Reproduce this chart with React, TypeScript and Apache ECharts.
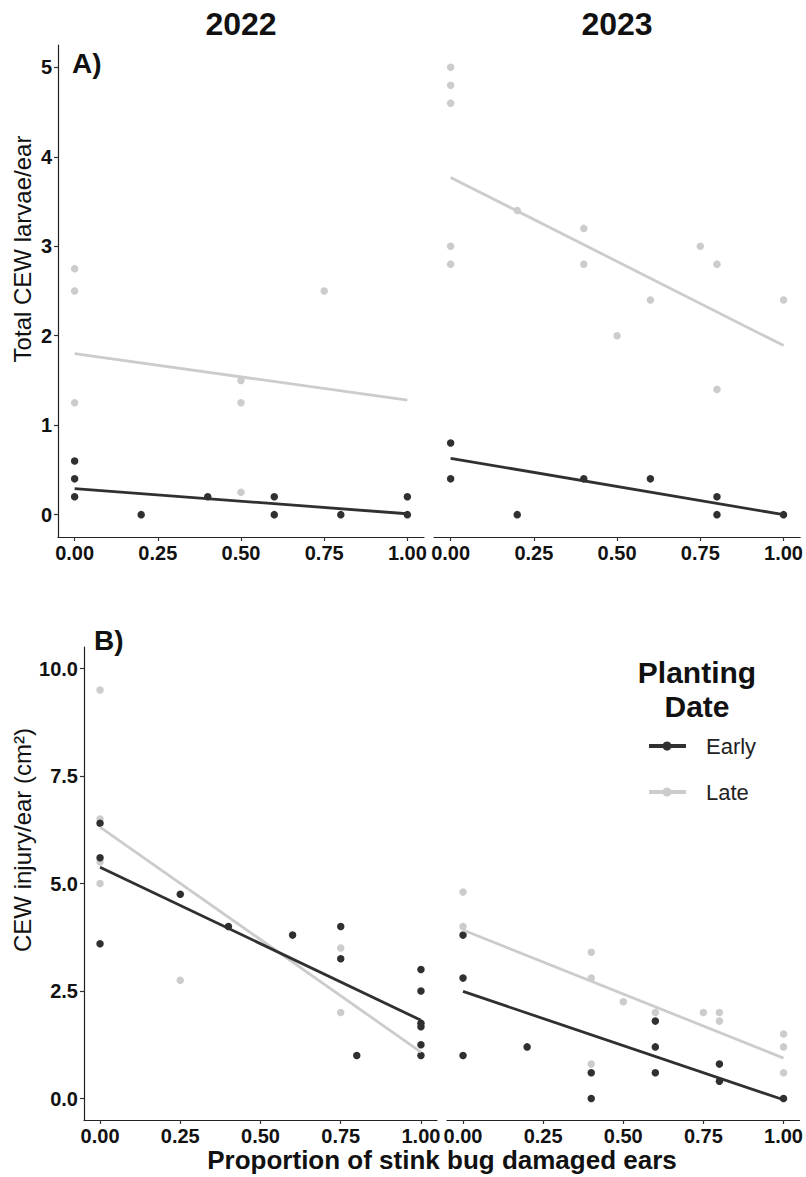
import React, { useEffect, useRef } from "react";
import * as echarts from "echarts";

// Tick positions
const xTicks = [0, 0.25, 0.5, 0.75, 1];
const yTicksLarvae = [0, 1, 2, 3, 4, 5];
const yTicksInjury = [0, 2.5, 5, 7.5, 10];

// A) Total CEW larvae per ear — 2022
const larvae2022EarlyX = [0, 0, 0, 0.2, 0.4, 0.6, 0.6, 0.8, 1, 1];
const larvae2022EarlyY = [0.6, 0.4, 0.2, 0, 0.2, 0.2, 0, 0, 0.2, 0];
const larvae2022LateX = [0, 0, 0, 0.5, 0.5, 0.5, 0.75];
const larvae2022LateY = [2.75, 2.5, 1.25, 1.5, 1.25, 0.25, 2.5];

// A) Total CEW larvae per ear — 2023
const larvae2023EarlyX = [0, 0, 0.2, 0.4, 0.6, 0.8, 0.8, 1];
const larvae2023EarlyY = [0.8, 0.4, 0, 0.4, 0.4, 0.2, 0, 0];
const larvae2023LateX = [0, 0, 0, 0, 0, 0.2, 0.4, 0.4, 0.5, 0.6, 0.75, 0.8, 0.8, 1];
const larvae2023LateY = [5, 4.8, 4.6, 3, 2.8, 3.4, 3.2, 2.8, 2, 2.4, 3, 2.8, 1.4, 2.4];

// B) CEW injury per ear — 2022
const injury2022EarlyX = [0, 0, 0, 0.25, 0.4, 0.6, 0.75, 0.75, 0.8, 1, 1, 1, 1, 1, 1];
const injury2022EarlyY = [6.4, 5.6, 3.6, 4.75, 4, 3.8, 4, 3.25, 1, 3, 2.5, 1.75, 1.67, 1.25, 1];
const injury2022LateX = [0, 0, 0, 0, 0.25, 0.75, 0.75];
const injury2022LateY = [9.5, 6.5, 5.5, 5, 2.75, 3.5, 2];

// B) CEW injury per ear — 2023
const injury2023EarlyX = [0, 0, 0, 0.2, 0.4, 0.4, 0.6, 0.6, 0.6, 0.8, 0.8, 1];
const injury2023EarlyY = [3.8, 2.8, 1, 1.2, 0.6, 0, 1.8, 1.2, 0.6, 0.8, 0.4, 0];
const injury2023LateX = [0, 0, 0.4, 0.4, 0.4, 0.5, 0.6, 0.75, 0.8, 0.8, 1, 1, 1];
const injury2023LateY = [4.8, 4, 3.4, 2.8, 0.8, 2.25, 2, 2, 2, 1.8, 1.5, 1.2, 0.6];

// Linear fits: fitted value at x = 0 and x = 1
const fitX = [0, 1];
const fitLarvae2022Early = [0.29, 0.01];
const fitLarvae2022Late = [1.8, 1.28];
const fitLarvae2023Early = [0.63, 0.0];
const fitLarvae2023Late = [3.77, 1.89];
const fitInjury2022Early = [5.38, 1.82];
const fitInjury2022Late = [6.31, 1.08];
const fitInjury2023Early = [2.49, -0.03];
const fitInjury2023Late = [3.92, 0.94];

const years = ["2022", "2023"];
const groups = ["Early", "Late"];

const DARK = "#303030";
const LIGHT = "#cccccc";
const FONT = "'Liberation Sans', Arial, sans-serif";

const zip = (xs: number[], ys: number[]) => xs.map((x, i) => [x, ys[i]]);

export default function App() {
  const ref = useRef<HTMLDivElement>(null);

  useEffect(() => {
    if (!ref.current) return;
    const chart = echarts.init(ref.current, null, { renderer: "svg" });

    const grids = [
      { left: 58, top: 45, width: 366, height: 492 },
      { left: 434, top: 45, width: 367, height: 492 },
      { left: 84, top: 647, width: 353, height: 473 },
      { left: 447, top: 647, width: 354, height: 473 },
    ];

    const xAxis = grids.map((_, i) => ({
      type: "value",
      gridIndex: i,
      min: -0.05,
      max: 1.05,
      splitLine: { show: false },
      axisLine: { show: true, onZero: false, lineStyle: { color: "#222", width: 1.2 } },
      axisTick: { show: true, length: 4, customValues: xTicks, lineStyle: { color: "#333", width: 1.2 } },
      axisLabel: {
        customValues: xTicks,
        formatter: (v: number) => v.toFixed(2),
        color: "#111",
        fontFamily: FONT,
        fontWeight: "bold",
        fontSize: 20,
        margin: 6,
      },
    }));

    const yAxis = grids.map((_, i) => {
      const larvae = i < 2;
      const ticks = larvae ? yTicksLarvae : yTicksInjury;
      return {
        type: "value",
        gridIndex: i,
        min: larvae ? -0.25 : -0.5,
        max: larvae ? 5.25 : 10.5,
        show: i % 2 === 0,
        splitLine: { show: false },
        axisLine: { show: true, onZero: false, lineStyle: { color: "#222", width: 1.2 } },
        axisTick: { show: true, length: 4, customValues: ticks, lineStyle: { color: "#333", width: 1.2 } },
        axisLabel: {
          customValues: ticks,
          formatter: (v: number) => (larvae ? String(v) : v.toFixed(1)),
          color: "#111",
          fontFamily: FONT,
          fontWeight: "bold",
          fontSize: 20,
          margin: 6,
        },
      };
    });

    const panels = [
      { early: zip(larvae2022EarlyX, larvae2022EarlyY), late: zip(larvae2022LateX, larvae2022LateY), fitE: fitLarvae2022Early, fitL: fitLarvae2022Late },
      { early: zip(larvae2023EarlyX, larvae2023EarlyY), late: zip(larvae2023LateX, larvae2023LateY), fitE: fitLarvae2023Early, fitL: fitLarvae2023Late },
      { early: zip(injury2022EarlyX, injury2022EarlyY), late: zip(injury2022LateX, injury2022LateY), fitE: fitInjury2022Early, fitL: fitInjury2022Late },
      { early: zip(injury2023EarlyX, injury2023EarlyY), late: zip(injury2023LateX, injury2023LateY), fitE: fitInjury2023Early, fitL: fitInjury2023Late },
    ];

    const series: any[] = [];
    panels.forEach((p, i) => {
      const axes = { xAxisIndex: i, yAxisIndex: i };
      series.push({ type: "scatter", name: groups[1], ...axes, data: p.late, symbolSize: 7.5, itemStyle: { color: LIGHT, opacity: 1 }, z: 2 });
      series.push({ type: "scatter", name: groups[0], ...axes, data: p.early, symbolSize: 7.5, itemStyle: { color: DARK, opacity: 1 }, z: 3 });
      series.push({ type: "line", ...axes, data: zip(fitX, p.fitL), showSymbol: false, lineStyle: { color: LIGHT, width: 2.8 }, z: 4 });
      series.push({ type: "line", ...axes, data: zip(fitX, p.fitE), showSymbol: false, lineStyle: { color: DARK, width: 2.8 }, z: 5 });
    });

    const titleText = (text: string, x: number, y: number, size: number, weight = "bold") => ({
      type: "text",
      x,
      y,
      style: { text, fontFamily: FONT, fontWeight: weight, fontSize: size, fill: "#111", align: "center", verticalAlign: "middle" },
    });

    const graphic: any[] = [
      titleText(years[0], 241, 24, 32),
      titleText(years[1], 617, 24, 32),
      { type: "text", x: 72, y: 63, style: { text: "A)", fontFamily: FONT, fontWeight: "bold", fontSize: 28, fill: "#111", align: "left", verticalAlign: "middle" } },
      { type: "text", x: 94, y: 640, style: { text: "B)", fontFamily: FONT, fontWeight: "bold", fontSize: 28, fill: "#111", align: "left", verticalAlign: "middle" } },
      {
        type: "text", x: 22, y: 249, rotation: Math.PI / 2,
        style: { text: "Total CEW larvae/ear", fontFamily: FONT, fontSize: 24, fill: "#111", align: "center", verticalAlign: "middle" },
      },
      {
        type: "text", x: 22, y: 840, rotation: Math.PI / 2,
        style: { text: "CEW injury/ear (cm²)", fontFamily: FONT, fontSize: 24, fill: "#111", align: "center", verticalAlign: "middle" },
      },
      titleText("Proportion of stink bug damaged ears", 442, 1160, 26),
      // legend
      titleText("Planting", 697, 672, 30),
      titleText("Date", 697, 706, 30),
      { type: "line", shape: { x1: 649, y1: 746, x2: 686, y2: 746 }, style: { stroke: DARK, lineWidth: 4 } },
      { type: "circle", shape: { cx: 667, cy: 746, r: 4.5 }, style: { fill: DARK } },
      { type: "text", x: 706, y: 746, style: { text: groups[0], fontFamily: FONT, fontSize: 22, fill: "#222", align: "left", verticalAlign: "middle" } },
      { type: "line", shape: { x1: 649, y1: 792, x2: 686, y2: 792 }, style: { stroke: LIGHT, lineWidth: 4 } },
      { type: "circle", shape: { cx: 667, cy: 792, r: 4.5 }, style: { fill: LIGHT } },
      { type: "text", x: 706, y: 792, style: { text: groups[1], fontFamily: FONT, fontSize: 22, fill: "#222", align: "left", verticalAlign: "middle" } },
    ];

    chart.setOption({
      animation: false,
      backgroundColor: "#ffffff",
      grid: grids,
      xAxis,
      yAxis,
      series,
      graphic,
    });

    return () => chart.dispose();
  }, []);

  return (
    <div
      ref={ref}
      style={{ position: "fixed", left: 0, top: 0, width: 806, height: 1177, background: "#fff" }}
    />
  );
}
